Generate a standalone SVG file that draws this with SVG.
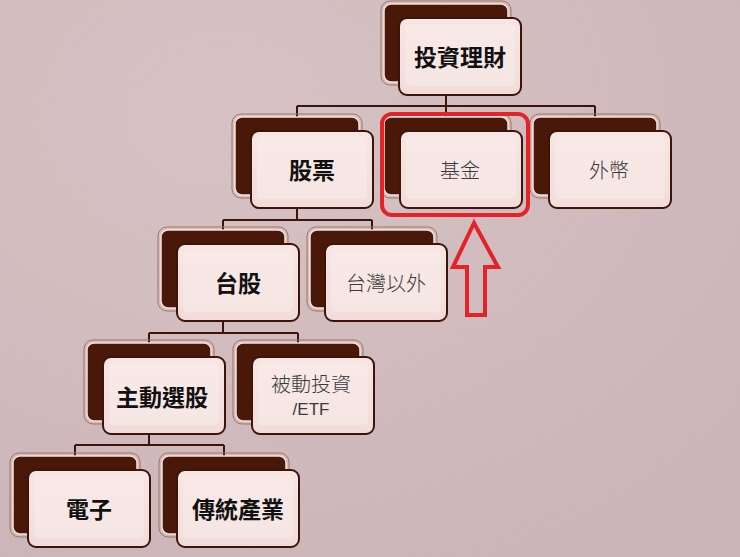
<svg xmlns="http://www.w3.org/2000/svg" width="740" height="557" viewBox="0 0 740 557">
<defs>
<style>
.back{fill:#4a1808;stroke:#f3e2da;stroke-width:1.5}
.ring{fill:none;stroke:#a07565;stroke-width:1}
.front{fill:url(#fg);stroke:#3c140a;stroke-width:2}
.hl{fill:#f9ecea;opacity:0.55}
.con{fill:none;stroke:#3c140a;stroke-width:2}
.tb{font-family:"Noto Sans CJK TC","Noto Sans CJK SC",sans-serif;font-weight:bold;font-size:23px;fill:#111;text-anchor:middle;dominant-baseline:central}
.tn{font-family:"Noto Sans CJK TC","Noto Sans CJK SC",sans-serif;font-weight:300;font-size:20px;fill:#3a3a3a;text-anchor:middle;dominant-baseline:central}
.te{font-family:"Liberation Sans",Arial,sans-serif;font-size:17px;fill:#3a3a3a;text-anchor:middle;dominant-baseline:central}
.red{fill:none;stroke:#e3222a;stroke-width:4;stroke-linejoin:miter}
</style>
<linearGradient id="fg" x1="0" y1="0" x2="0" y2="1">
<stop offset="0" stop-color="#f7e6e4"/>
<stop offset="1" stop-color="#f1dcda"/>
</linearGradient>
<radialGradient id="bgg" cx="0.3" cy="0.2" r="0.9">
<stop offset="0" stop-color="#d6c2c4"/>
<stop offset="1" stop-color="#ccb5b8"/>
</radialGradient>
</defs>
<rect width="740" height="557" fill="url(#bgg)"/>

<g id="connectors">
<path class="con" d="M446 94V106M297 106H595M297 106V117M446 106V117M595 106V117"/>
<path class="con" d="M297 207V220M223 220H372M223 220V230M372 220V230"/>
<path class="con" d="M223 320V333M149 333H298M149 333V343M298 333V343"/>
<path class="con" d="M149 433V445M75 445H224M75 445V456M224 445V456"/>
</g>

<g id="n-root">
<rect class="ring" x="381" y="1" width="130" height="84" rx="9"/>
<rect class="back" x="384" y="4" width="124" height="78" rx="7"/>
<rect class="front" x="399" y="18" width="122" height="77" rx="8"/>
<rect class="hl" x="405" y="24" width="110" height="62" rx="5"/>
<text class="tb" x="460" y="56">投資理財</text>
</g>

<g id="n-stock">
<rect class="ring" x="232" y="114" width="130" height="84" rx="9"/>
<rect class="back" x="235" y="117" width="124" height="78" rx="7"/>
<rect class="front" x="251" y="131" width="122" height="77" rx="8"/>
<rect class="hl" x="257" y="137" width="110" height="62" rx="5"/>
<text class="tb" x="312" y="169">股票</text>
</g>

<g id="n-fund">
<rect class="ring" x="381" y="114" width="130" height="84" rx="9"/>
<rect class="back" x="384" y="117" width="124" height="78" rx="7"/>
<rect class="front" x="400" y="131" width="122" height="77" rx="8"/>
<rect class="hl" x="406" y="137" width="110" height="62" rx="5"/>
<text class="tn" x="460" y="169">基金</text>
</g>

<g id="n-fx">
<rect class="ring" x="530" y="114" width="130" height="84" rx="9"/>
<rect class="back" x="533" y="117" width="124" height="78" rx="7"/>
<rect class="front" x="549" y="131" width="122" height="77" rx="8"/>
<rect class="hl" x="555" y="137" width="110" height="62" rx="5"/>
<text class="tn" x="609" y="169">外幣</text>
</g>

<g id="n-tw">
<rect class="ring" x="158" y="227" width="130" height="84" rx="9"/>
<rect class="back" x="161" y="230" width="124" height="78" rx="7"/>
<rect class="front" x="177" y="244" width="122" height="77" rx="8"/>
<rect class="hl" x="183" y="250" width="110" height="62" rx="5"/>
<text class="tb" x="238" y="282">台股</text>
</g>

<g id="n-nontw">
<rect class="ring" x="307" y="227" width="130" height="84" rx="9"/>
<rect class="back" x="310" y="230" width="124" height="78" rx="7"/>
<rect class="front" x="325" y="244" width="122" height="77" rx="8"/>
<rect class="hl" x="331" y="250" width="110" height="62" rx="5"/>
<text class="tn" x="386" y="282">台灣以外</text>
</g>

<g id="n-active">
<rect class="ring" x="84" y="340" width="130" height="84" rx="9"/>
<rect class="back" x="87" y="343" width="124" height="78" rx="7"/>
<rect class="front" x="103" y="357" width="122" height="77" rx="8"/>
<rect class="hl" x="109" y="363" width="110" height="62" rx="5"/>
<text class="tb" x="162" y="396">主動選股</text>
</g>

<g id="n-passive">
<rect class="ring" x="233" y="340" width="130" height="84" rx="9"/>
<rect class="back" x="236" y="343" width="124" height="78" rx="7"/>
<rect class="front" x="252" y="357" width="122" height="77" rx="8"/>
<rect class="hl" x="258" y="363" width="110" height="62" rx="5"/>
<text class="tn" x="311" y="383">被動投資</text>
<text class="te" x="311" y="409">/ETF</text>
</g>

<g id="n-elec">
<rect class="ring" x="10" y="453" width="130" height="84" rx="9"/>
<rect class="back" x="13" y="456" width="124" height="78" rx="7"/>
<rect class="front" x="28" y="470" width="122" height="77" rx="8"/>
<rect class="hl" x="34" y="476" width="110" height="62" rx="5"/>
<text class="tb" x="89" y="508">電子</text>
</g>

<g id="n-trad">
<rect class="ring" x="159" y="453" width="130" height="84" rx="9"/>
<rect class="back" x="162" y="456" width="124" height="78" rx="7"/>
<rect class="front" x="177" y="470" width="122" height="77" rx="8"/>
<rect class="hl" x="183" y="476" width="110" height="62" rx="5"/>
<text class="tb" x="238" y="508">傳統產業</text>
</g>

<g id="highlight">
<rect class="red" x="382" y="114" width="146" height="101" rx="10"/>
<path class="red" d="M474 223L453 267H467V315H485V267H498Z"/>
</g>
</svg>
